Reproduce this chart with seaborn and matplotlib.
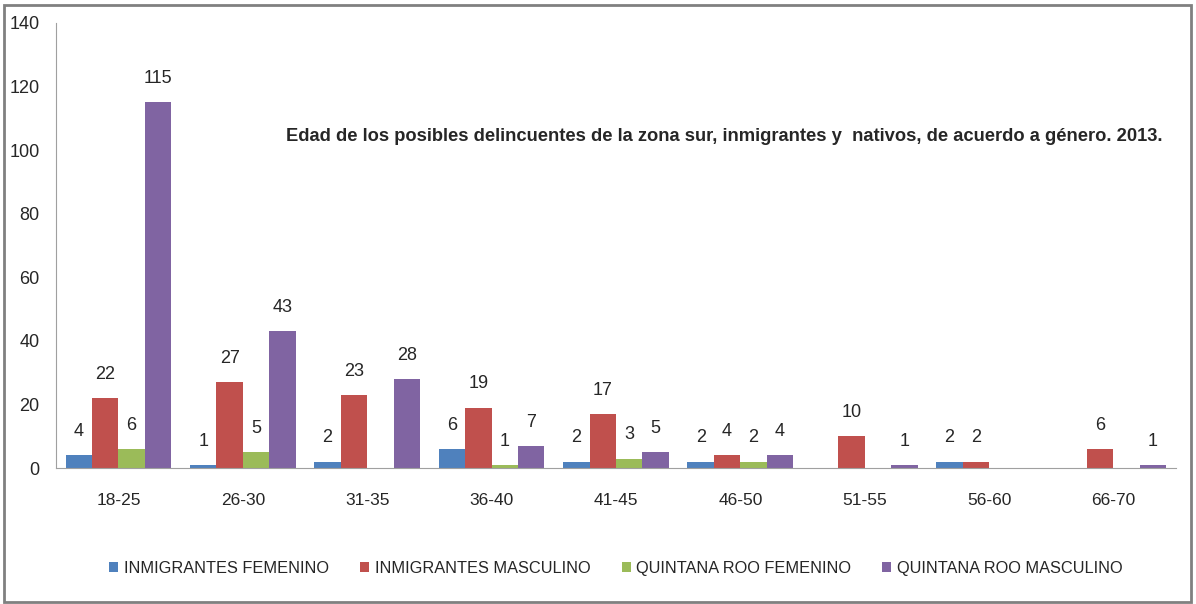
import pandas as pd
import numpy as np
import seaborn as sns
import matplotlib.pyplot as plt
from matplotlib.patches import Rectangle

sns.set_style("white")
plt.rcParams['font.family'] = ['Liberation Sans', 'DejaVu Sans']

# datos
edades = ["18-25", "26-30", "31-35", "36-40", "41-45", "46-50", "51-55", "56-60", "66-70"]
inm_fem = [4, 1, 2, 6, 2, 2, 0, 2, 0]
inm_masc = [22, 27, 23, 19, 17, 4, 10, 2, 6]
qroo_fem = [6, 5, 0, 1, 3, 2, 0, 0, 0]
qroo_masc = [115, 43, 28, 7, 5, 4, 1, 0, 1]

series = ["INMIGRANTES FEMENINO", "INMIGRANTES MASCULINO",
          "QUINTANA ROO FEMENINO", "QUINTANA ROO MASCULINO"]
colores = ["#4F81BD", "#C0504D", "#9BBB59", "#8064A2"]

df = pd.DataFrame({"edad": edades * 4,
                   "grupo": np.repeat(series, len(edades)),
                   "valor": inm_fem + inm_masc + qroo_fem + qroo_masc})

fig = plt.figure(figsize=(11.96, 6.04), dpi=100)
ax = fig.add_axes([0.047, 0.225, 0.936, 0.737])

sns.barplot(data=df, x="edad", y="valor", hue="grupo", hue_order=series,
            palette=colores, width=0.85, saturation=1, ax=ax, linewidth=0)

# etiquetas de valor, sin los ceros
for cont in ax.containers:
    etiquetas = [str(int(b.get_height())) if b.get_height() > 0 else "" for b in cont]
    ax.bar_label(cont, labels=etiquetas, padding=11, fontsize=13)

ax.set_ylim(0, 140)
ax.set_yticks(np.arange(0, 141, 20))
ax.set_xlim(-0.5, len(edades) - 0.5)
ax.tick_params(axis='y', labelsize=13, length=0, pad=12)
ax.tick_params(axis='x', labelsize=12.5, length=0, pad=18)
ax.set_xlabel("")
ax.set_ylabel("")
for s in ["top", "right"]:
    ax.spines[s].set_visible(False)
ax.spines["left"].set_color("#a0a0a0")
ax.spines["bottom"].set_color("#a0a0a0")

ax.text(0.205, 0.745, "Edad de los posibles delincuentes de la zona sur, inmigrantes y  nativos, de acuerdo a género. 2013.",
        transform=ax.transAxes, fontsize=13.2, fontweight="bold", ha="left", va="center")

ax.legend(loc="center", bbox_to_anchor=(0.5, -0.225), ncol=4, frameon=False,
          fontsize=11.8, handlelength=0.55, handleheight=0.55, handletextpad=0.35,
          columnspacing=1.9)

fig.patches.append(Rectangle((0.003, 0.004), 0.993, 0.988, transform=fig.transFigure,
                             fill=False, edgecolor="#808080", linewidth=2))

fig.savefig("out.png", dpi=100)
